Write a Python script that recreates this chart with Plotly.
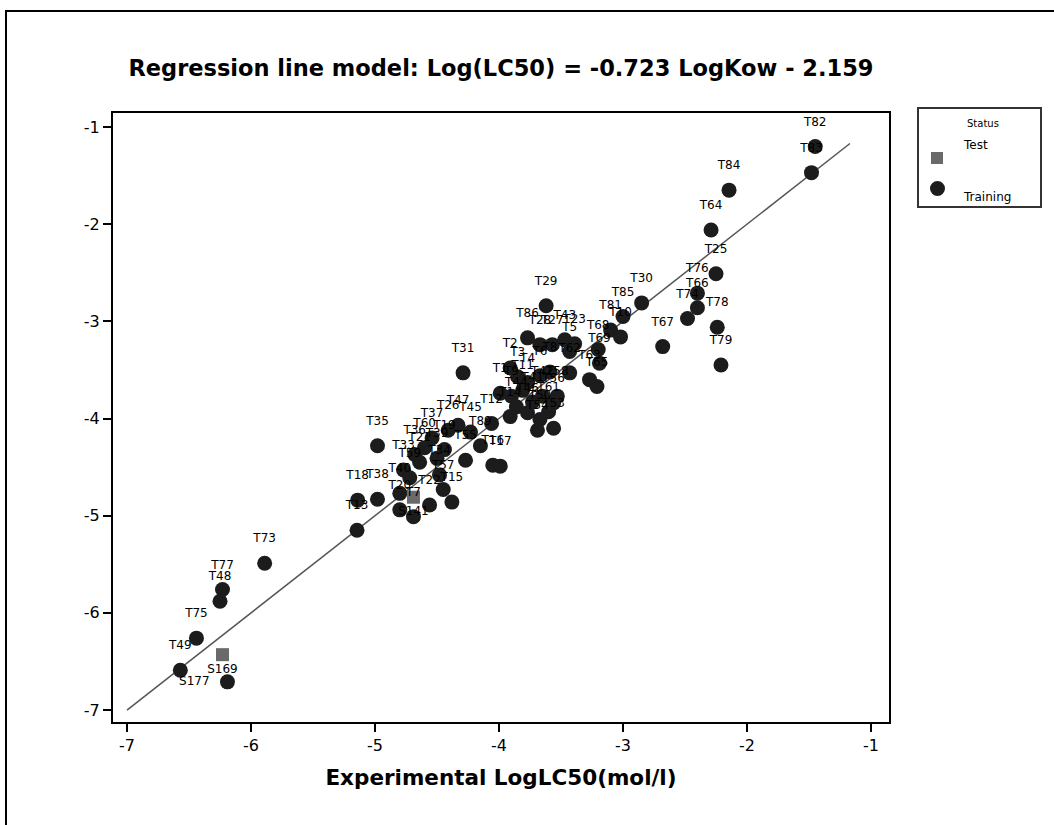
import plotly.graph_objects as go

# ---- data ----
train_labels = ["T49", "S177", "T75", "T77", "T48", "T73",
                "T13", "T18", "T38", "T35", "T40", "T20", "T7", "T22", "T57", "T15",
                "T34", "T21", "T33", "T59", "T60", "T37", "T19", "T26", "T47", "T55",
                "T45", "T89", "T16", "T17", "T12", "T14", "T39", "T36",
                "T31", "T86", "T28", "T27", "T43", "T23", "T5", "T2", "T3", "T4",
                "T6", "T8", "T1", "T9", "T11", "T41", "T42", "T44", "T46", "T50",
                "T53", "T54", "T56", "T58", "T61", "T62", "T63", "T65", "T68", "T69",
                "T81", "T10", "T85", "T30", "T29",
                "T82", "T83", "T84", "T64", "T25", "T76", "T66", "T74", "T78", "T79", "T67"]
train_x = [-6.57, -6.19, -6.44, -6.23, -6.25, -5.89,
           -5.145, -5.14, -4.98, -4.98, -4.80, -4.80, -4.69, -4.56, -4.45, -4.38,
           -4.48, -4.64, -4.77, -4.72, -4.60, -4.54, -4.44, -4.41, -4.33, -4.27,
           -4.23, -4.15, -4.05, -3.99, -4.06, -3.91, -4.50, -4.68,
           -4.29, -3.77, -3.67, -3.57, -3.47, -3.39, -3.43, -3.91, -3.85, -3.77,
           -3.67, -3.59, -3.99, -3.90, -3.81, -3.73, -3.65, -3.86, -3.77, -3.67,
           -3.56, -3.69, -3.56, -3.53, -3.60, -3.43, -3.27, -3.21, -3.20, -3.19,
           -3.10, -3.02, -3.00, -2.85, -3.62,
           -1.45, -1.48, -2.145, -2.29, -2.25, -2.40, -2.40, -2.48, -2.24, -2.21, -2.68]
train_y = [-6.59, -6.71, -6.26, -5.76, -5.88, -5.49,
           -5.15, -4.84, -4.83, -4.28, -4.77, -4.94, -5.01, -4.89, -4.73, -4.86,
           -4.58, -4.45, -4.53, -4.61, -4.30, -4.20, -4.32, -4.12, -4.07, -4.43,
           -4.14, -4.28, -4.48, -4.49, -4.05, -3.98, -4.41, -4.37,
           -3.53, -3.17, -3.24, -3.24, -3.19, -3.23, -3.31, -3.48, -3.57, -3.63,
           -3.56, -3.52, -3.74, -3.77, -3.71, -3.83, -3.77, -3.88, -3.94, -4.01,
           -4.10, -4.12, -3.84, -3.77, -3.93, -3.53, -3.60, -3.67, -3.29, -3.43,
           -3.09, -3.16, -2.95, -2.81, -2.84,
           -1.20, -1.47, -1.65, -2.06, -2.51, -2.71, -2.86, -2.97, -3.06, -3.45, -3.26]

test_labels = ["S169", "S141"]
test_x = [-6.23, -4.69]
test_y = [-6.43, -4.81]

line_x = [-7.0, -1.17]
line_y = [-7.0, -1.17]

tick_vals = [-7, -6, -5, -4, -3, -2, -1]
tick_text = ["-7", "-6", "-5", "-4", "-3", "-2", "-1"]

title_text = "Regression line model: Log(LC50) = -0.723 LogKow - 2.159"
x_title = "Experimental LogLC50(mol/l)"
legend_title = "Status"
legend_names = ["Test", "Training"]

FONT = "DejaVu Sans"
label_font = dict(family=FONT, size=12, color="black")
TRAIN_COLOR = "#1c1c1c"
TEST_COLOR = "#6a6a6a"

# label placement style (separate from the data)
left_labelled = {"S177"}
train_text_pos = ["middle left" if lab in left_labelled else "top center"
                  for lab in train_labels]


def px_x(px):
    return (px - 113) / 776


def px_y(py):
    return (722 - py) / 609


fig = go.Figure()
fig.add_trace(go.Scatter(x=line_x, y=line_y, mode="lines",
                         line=dict(color="#555555", width=1.5),
                         showlegend=False, hoverinfo="skip"))
fig.add_trace(go.Scatter(x=train_x, y=train_y, mode="markers", name="Training",
                         showlegend=False,
                         marker=dict(symbol="circle", size=15, color=TRAIN_COLOR,
                                     line=dict(width=0))))
fig.add_trace(go.Scatter(x=test_x, y=test_y, mode="markers+text", name="Test",
                         text=test_labels, textposition="bottom center",
                         textfont=label_font, cliponaxis=False, showlegend=False,
                         marker=dict(symbol="square", size=13, color=TEST_COLOR,
                                     line=dict(width=0))))
# point labels drawn on top (placed via an invisible, larger marker)
fig.add_trace(go.Scatter(x=train_x, y=train_y, mode="markers+text",
                         text=train_labels, textposition=train_text_pos,
                         textfont=label_font, cliponaxis=False,
                         marker=dict(size=27, opacity=0),
                         showlegend=False, hoverinfo="skip"))

axis_common = dict(showgrid=False, zeroline=False, showline=True, linecolor="black",
                   linewidth=2, mirror=True, ticks="outside", ticklen=8, tickwidth=1.5,
                   tickcolor="black", tickvals=tick_vals, ticktext=tick_text,
                   tickfont=dict(family=FONT, size=16, color="black"))

fig.update_xaxes(range=[-7.113, -0.855], **axis_common,
                 title=dict(text=x_title, font=dict(family=FONT, size=21.5, color="black",
                                                    weight="bold"), standoff=16))
fig.update_yaxes(range=[-7.123, -0.856], **axis_common)

# manual legend (box, symbols, texts)
shapes = [
    dict(type="rect", xref="paper", yref="paper",
         x0=px_x(6), x1=px_x(1070), y0=px_y(840), y1=px_y(11),
         line=dict(color="black", width=2), layer="below"),
    dict(type="rect", xref="paper", yref="paper",
         x0=px_x(918), x1=px_x(1041), y0=px_y(207), y1=px_y(108),
         line=dict(color="#333333", width=2), fillcolor="white"),
    dict(type="rect", xref="paper", yref="paper",
         x0=px_x(931), x1=px_x(943), y0=px_y(164), y1=px_y(152),
         line=dict(width=0), fillcolor=TEST_COLOR),
    dict(type="circle", xref="paper", yref="paper",
         x0=px_x(930), x1=px_x(945), y0=px_y(196), y1=px_y(181),
         line=dict(width=0), fillcolor=TRAIN_COLOR),
]
annotations = [
    dict(text=legend_title, xref="paper", yref="paper", x=px_x(983), y=px_y(124),
         xanchor="center", yanchor="middle", showarrow=False,
         font=dict(family=FONT, size=10, color="black")),
    dict(text=legend_names[0], xref="paper", yref="paper", x=px_x(961), y=px_y(145),
         xanchor="left", yanchor="middle", showarrow=False,
         font=dict(family=FONT, size=12, color="black")),
    dict(text=legend_names[1], xref="paper", yref="paper", x=px_x(961), y=px_y(197),
         xanchor="left", yanchor="middle", showarrow=False,
         font=dict(family=FONT, size=12, color="black")),
]

fig.update_layout(
    width=1054, height=825, autosize=False,
    margin=dict(l=113, r=165, t=113, b=103),
    paper_bgcolor="white", plot_bgcolor="white",
    showlegend=False,
    title=dict(text=title_text, x=0.5, xref="paper", xanchor="center",
               y=(825 - 68) / 825, yanchor="middle",
               font=dict(family=FONT, size=22.5, color="black", weight="bold")),
    shapes=shapes,
    annotations=annotations,
)

fig.write_html("out.html")
